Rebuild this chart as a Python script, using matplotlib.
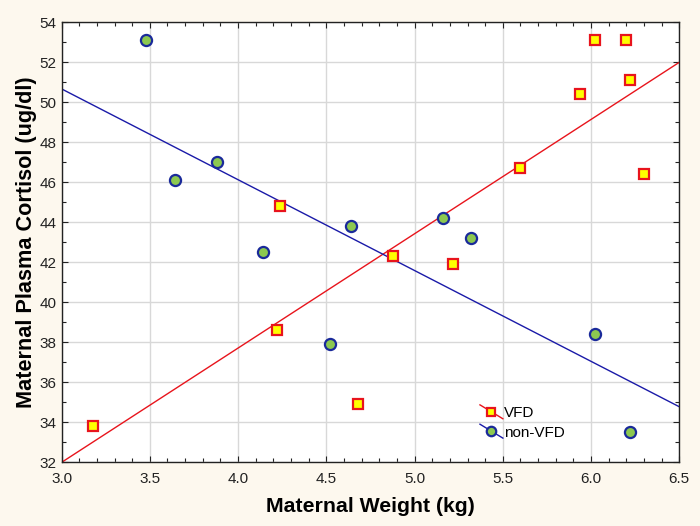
import matplotlib
matplotlib.use("Agg")
import matplotlib.pyplot as plt
from matplotlib.legend_handler import HandlerBase
from matplotlib.lines import Line2D
from matplotlib.ticker import MultipleLocator

# ---------------------------------------------------------------------------
# Data
# ---------------------------------------------------------------------------

vfd_weight = [3.18, 4.22, 4.24, 4.68, 4.88, 5.22, 5.60, 5.94, 6.02, 6.20, 6.22, 6.30]
vfd_cortisol = [33.8, 38.6, 44.8, 34.9, 42.3, 41.9, 46.7, 50.4, 53.1, 53.1, 51.1, 46.4]

nonvfd_weight = [3.48, 3.64, 3.88, 4.14, 4.52, 4.64, 5.16, 5.32, 6.02, 6.22]
nonvfd_cortisol = [53.1, 46.1, 47.0, 42.5, 37.9, 43.8, 44.2, 43.2, 38.4, 33.5]

# fitted lines, evaluated at the x-range ends
fit_x = [3.0, 6.5]
vfd_fit = [32.0, 52.0]
nonvfd_fit = [50.67, 34.78]

plt.rcParams["font.family"] = ["Liberation Sans", "DejaVu Sans"]

BG = "#fdf8ee"
RED = "#e8141c"
BLUE = "#1a1aa8"


class DiagonalHandler(HandlerBase):
    # legend key: short diagonal line with the marker on top
    def create_artists(self, legend, orig_handle, xdescent, ydescent,
                       width, height, fontsize, trans):
        line = Line2D([0, width], [height * 1.15, -0.15 * height],
                      color=orig_handle.get_color(), lw=1.0)
        mark = Line2D([width / 2], [height / 2], linestyle="none",
                      marker=orig_handle.get_marker(),
                      markersize=orig_handle.get_markersize() * 0.85,
                      markerfacecolor=orig_handle.get_markerfacecolor(),
                      markeredgecolor=orig_handle.get_markeredgecolor(),
                      markeredgewidth=orig_handle.get_markeredgewidth())
        line.set_transform(trans)
        mark.set_transform(trans)
        return [line, mark]


fig = plt.figure(figsize=(7.0, 5.26), dpi=100, facecolor=BG)
ax = fig.add_axes([0.088, 0.121, 0.8824, 0.8366])
ax.set_facecolor("white")

ax.plot(fit_x, vfd_fit, color=RED, lw=1.0, zorder=2)
ax.plot(fit_x, nonvfd_fit, color=BLUE, lw=1.0, zorder=2)

ax.plot(vfd_weight, vfd_cortisol, linestyle="none", marker="s", markersize=7.5,
        markerfacecolor="#ffff00", markeredgecolor=RED, markeredgewidth=1.6, zorder=3)
ax.plot(nonvfd_weight, nonvfd_cortisol, linestyle="none", marker="o", markersize=8,
        markerfacecolor="#8cc850", markeredgecolor="#1a2a9a", markeredgewidth=1.6, zorder=3)

ax.set_xlim(3.0, 6.5)
ax.set_ylim(32, 54)
ax.xaxis.set_major_locator(MultipleLocator(0.5))
ax.xaxis.set_minor_locator(MultipleLocator(0.1))
ax.yaxis.set_major_locator(MultipleLocator(2))
ax.yaxis.set_minor_locator(MultipleLocator(1))
ax.xaxis.set_major_formatter(lambda v, p: f"{v:.1f}")
ax.yaxis.set_major_formatter(lambda v, p: f"{v:.0f}")
ax.tick_params(which="both", direction="in", top=True, right=True,
               labelsize=11, colors="#222222", labelcolor="#222222")
ax.tick_params(which="major", length=4, width=0.8)
ax.tick_params(which="minor", length=3, width=0.8)
ax.tick_params(axis="x", pad=7)
ax.grid(True, which="major", color="#d8d8d8", lw=1.0)
ax.set_axisbelow(True)
for s in ax.spines.values():
    s.set_color("#222222")
    s.set_linewidth(1.0)

ax.set_xlabel("Maternal Weight (kg)", fontsize=15.3, fontweight="bold", labelpad=8)
ax.set_ylabel("Maternal Plasma Cortisol (ug/dl)", fontsize=15.6, fontweight="bold", labelpad=2)

h_vfd = Line2D([], [], color=RED, marker="s", markersize=7.5,
               markerfacecolor="#ffff00", markeredgecolor=RED, markeredgewidth=1.6)
h_non = Line2D([], [], color=BLUE, marker="o", markersize=8,
               markerfacecolor="#8cc850", markeredgecolor="#1a2a9a", markeredgewidth=1.6)
ax.legend([h_vfd, h_non], ["VFD", "non-VFD"], loc="upper left",
          bbox_to_anchor=(0.66, 0.152), handler_map={Line2D: DiagonalHandler()},
          frameon=False, fontsize=11, handlelength=1.5, handletextpad=0.1,
          labelspacing=0.35, borderpad=0.2)

fig.savefig("out.png", dpi=100, facecolor=BG)
